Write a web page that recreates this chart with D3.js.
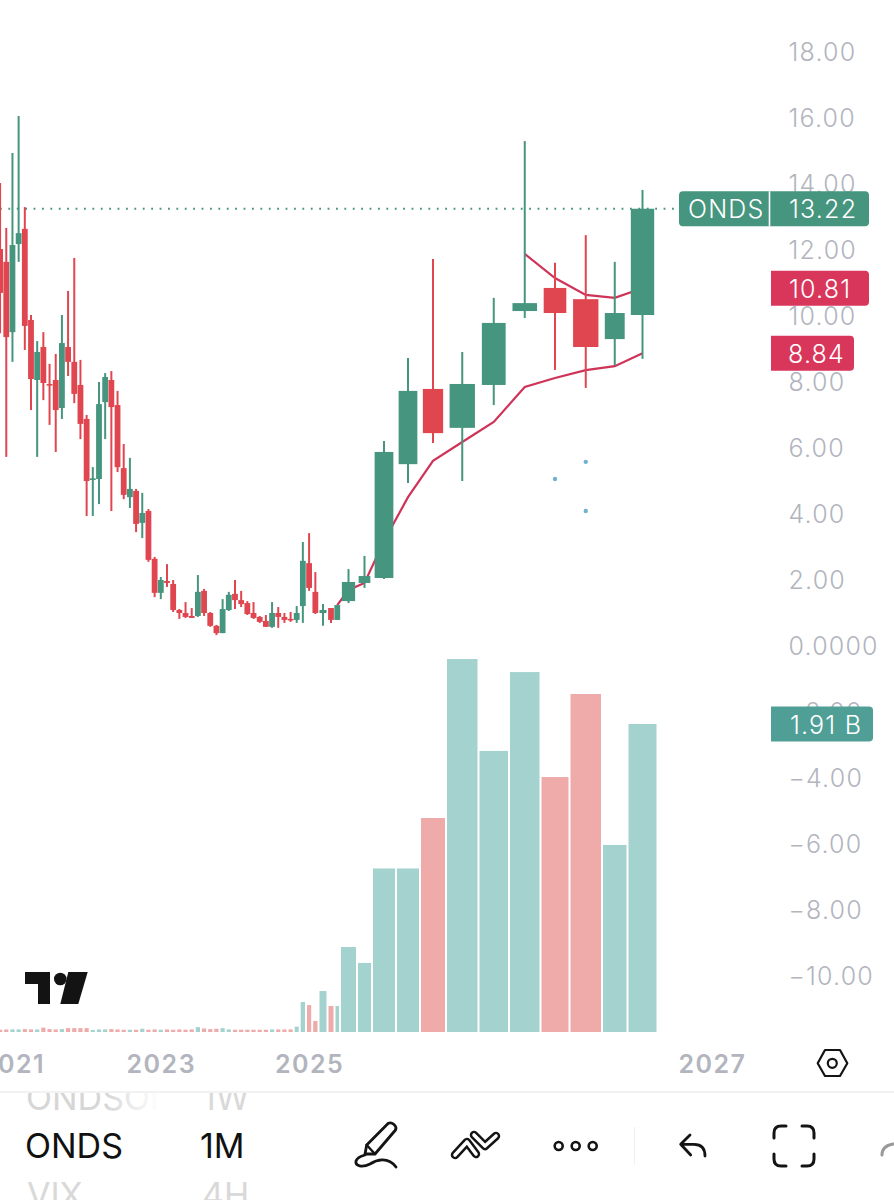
<!DOCTYPE html>
<html>
<head>
<meta charset="utf-8">
<script src="https://cdn.jsdelivr.net/npm/d3@7"></script>
<style>
  html, body { margin: 0; background: #fff; }
  svg { display: block; font-family: Inter, "Noto Sans", sans-serif; }
</style>
</head>
<body>
<div id="chart"></div>
<script>
// monthly candles, index 0 = Nov 2020, index 50 = Jan 2025
const open = [12.00,11.61,9.48,12.15,12.61,9.85,8.03,9.03,7.91,8.03,7.18,9.03,8.58,7.88,6.85,5.00,5.03,7.36,8.03,7.27,5.36,4.48,4.67,3.70,4.06,2.61,1.58,1.94,1.85,1.06,0.97,0.88,0.88,1.64,0.97,0.58,0.36,1.06,1.55,1.36,1.27,0.97,0.85,0.73,0.55,0.97,0.85,0.79,0.76,1.18,2.48,1.61,0.97,1.12,0.76,1.33,1.88,2.03,5.48,7.76,6.58,7.88,10.12,10.82,10.48,9.27,10.00];
const high = [14.00,12.64,14.91,16.03,13.27,10.00,9.21,9.48,8.52,8.82,10.00,10.73,11.73,8.64,6.97,5.39,7.97,8.24,8.30,7.70,6.09,5.67,4.73,4.61,4.12,2.67,2.06,2.45,1.97,1.09,1.30,1.12,2.12,1.70,1.00,0.61,1.39,1.61,1.97,1.64,1.33,1.30,0.88,0.91,1.30,1.15,0.97,1.00,1.18,3.12,3.39,2.21,1.24,1.12,1.21,2.30,2.70,6.18,8.70,11.70,8.88,10.52,15.27,11.58,12.42,11.61,13.79];
const low = [9.45,5.70,8.58,11.61,8.94,7.12,5.70,7.42,6.67,5.85,6.85,8.15,7.33,6.24,3.91,3.91,4.27,6.24,4.06,5.24,4.42,4.15,3.42,3.24,2.52,1.45,1.39,1.76,1.00,0.79,0.82,0.82,0.85,0.88,0.55,0.30,0.36,1.03,1.09,1.15,0.91,0.79,0.67,0.55,0.52,0.52,0.67,0.70,0.67,0.67,1.64,0.94,0.58,0.67,0.76,1.27,1.73,2.00,4.91,6.12,4.97,7.27,9.91,8.33,7.79,8.48,8.67];
const close = [10.67,9.33,12.12,12.48,9.67,8.06,8.88,7.94,7.86,7.12,9.15,8.58,7.61,6.70,4.97,5.05,7.30,8.12,7.21,5.39,4.55,4.73,3.67,4.00,2.58,1.58,1.97,1.88,1.06,0.97,0.85,0.82,1.61,0.97,0.58,0.36,1.09,1.52,1.36,1.24,0.94,0.82,0.70,0.55,0.97,0.85,0.76,0.76,0.97,2.55,1.73,0.97,1.06,0.76,1.21,1.91,2.09,5.85,7.70,6.42,7.91,9.76,10.36,10.06,9.03,10.06,13.22];
// volume in billions
const volume = [0.014,0.016,0.016,0.016,0.018,0.016,0.016,0.027,0.018,0.016,0.018,0.024,0.024,0.024,0.024,0.012,0.016,0.016,0.018,0.016,0.014,0.014,0.014,0.020,0.014,0.016,0.014,0.016,0.014,0.016,0.014,0.016,0.030,0.022,0.018,0.020,0.024,0.016,0.014,0.014,0.014,0.014,0.014,0.014,0.016,0.016,0.016,0.016,0.033,0.186,0.167,0.068,0.254,0.161,0.161,0.527,0.428,1.014,1.014,1.327,2.313,1.743,2.232,1.581,2.096,1.160,1.910];
// two moving averages, each starts at a given candle index
const maLowStart = 54;
const maLow = [1.21,1.67,1.88,3.15,4.48,5.58,6.15,6.76,7.82,8.09,8.33,8.45,8.84];
const maHighStart = 62;
const maHigh = [11.85,11.12,10.61,10.52,10.81];
// small blue marks: candle index and price
const dotIndex = [63,64,64];
const dotPrice = [5.03,5.55,4.06];

const priceTicks = [18,16,14,12,10,8,6,4,2,0,-2,-4,-6,-8,-10];
const yearTicks = [2,26,50,74];
const yearLabels = ["2021","2023","2025","2027"];

const lastPrice = 13.22, lastMaHigh = 10.81, lastMaLow = 8.84, lastVolume = 1.91;

const width = 894, height = 1200;
const green = "#46957f", red = "#e0464f";
const volGreen = "#a3d2cf", volRed = "#eeabaa";
const pink = "#cf3358", axisGrey = "#b2b5be";

// the app squeezes months unevenly, so the x scale is piecewise on month edges
const x = d3.scaleLinear()
    .domain([-0.5,47.5,48.5,49.5,50.5,51.5,52.5,53.5,54.5,55.5,56.5,57.5,58.5,59.5,60.5,61.5,62.5,63.5,64.5,65.5,66.5,74])
    .range([-3,293.7,299.7,306,312.2,318.5,327.5,334.5,340,357,372,396,420,446,478.5,509,540.5,569.5,602,627.5,657.5,712]);

const y = d3.scaleLinear().domain([-12, 19]).range([645 + 12 * 33, 645 - 19 * 33]);
const v = d3.scaleLinear().domain([0, lastVolume]).range([1032, 724]);

const svg = d3.select("#chart").append("svg")
    .attr("width", width)
    .attr("height", height)
    .attr("viewBox", [0, 0, width, height]);

const defs = svg.append("defs");
const fade = defs.append("linearGradient").attr("id", "fade")
    .attr("gradientUnits", "userSpaceOnUse")
    .attr("x1", 105).attr("x2", 160).attr("y1", 0).attr("y2", 0);
fade.append("stop").attr("offset", 0).attr("stop-color", "#d6d6d6");
fade.append("stop").attr("offset", 1).attr("stop-color", "#ffffff");
defs.append("clipPath").attr("id", "wheel").append("rect")
    .attr("x", 0).attr("y", 1093).attr("width", width).attr("height", 107);

const idx = d3.range(open.length);

// price axis sits under the labels
const yAxis = d3.axisRight(y)
    .tickValues(priceTicks)
    .tickSize(0)
    .tickPadding(0)
    .tickFormat(d => d === 0 ? "0.0000" : d3.format(".2f")(d));
svg.append("g")
    .attr("transform", "translate(788.5,1)")
    .call(yAxis)
    .call(g => g.select(".domain").remove())
    .call(g => g.selectAll("text")
        .attr("fill", axisGrey)
        .attr("font-size", 25)
        .attr("font-family", "Inter")
        .attr("font-weight", 300)
        .attr("letter-spacing", 1.2));

const xAxis = d3.axisBottom(x)
    .tickValues(yearTicks)
    .tickSize(0)
    .tickPadding(0)
    .tickFormat((d, i) => yearLabels[i]);
svg.append("g")
    .attr("transform", "translate(0,1055)")
    .call(xAxis)
    .call(g => g.select(".domain").remove())
    .call(g => g.selectAll("text")
        .attr("fill", axisGrey)
        .attr("font-size", 25)
        .attr("font-family", "Inter")
        .attr("font-weight", 600)
        .attr("letter-spacing", 1.5));

// volume
const gap = 2;
svg.append("g")
  .selectAll("rect")
  .data(idx)
  .join("rect")
    .attr("x", i => x(i - 0.5) + gap / 2)
    .attr("width", i => x(i + 0.5) - x(i - 0.5) - gap)
    .attr("y", i => v(volume[i]))
    .attr("height", i => v(0) - v(volume[i]))
    .attr("fill", i => close[i] >= open[i] ? volGreen : volRed);

// last price line
svg.append("line")
    .attr("x1", 0).attr("x2", 680)
    .attr("y1", y(lastPrice)).attr("y2", y(lastPrice))
    .attr("stroke", green)
    .attr("stroke-width", 1.8)
    .attr("stroke-dasharray", "1.8 6.6");

// moving averages
const line = d3.line().x(d => x(d[0])).y(d => y(d[1]));
svg.append("path")
    .attr("d", line(maLow.map((d, i) => [maLowStart + i, d])))
    .attr("fill", "none").attr("stroke", pink).attr("stroke-width", 2.2);
svg.append("path")
    .attr("d", line(maHigh.map((d, i) => [maHighStart + i, d])))
    .attr("fill", "none").attr("stroke", pink).attr("stroke-width", 2.2);

// candles
const colour = i => close[i] >= open[i] ? green : red;
const candles = svg.append("g");
candles.selectAll("line")
  .data(idx)
  .join("line")
    .attr("x1", i => x(i)).attr("x2", i => x(i))
    .attr("y1", i => y(high[i])).attr("y2", i => y(low[i]))
    .attr("stroke", colour)
    .attr("stroke-width", 2);
const bodyWidth = i => Math.max((x(i + 0.5) - x(i - 0.5)) * 0.78, 5.8);
candles.selectAll("rect")
  .data(idx)
  .join("rect")
    .attr("x", i => x(i) - bodyWidth(i) / 2)
    .attr("width", bodyWidth)
    .attr("y", i => y(Math.max(open[i], close[i])))
    .attr("height", i => Math.max(Math.abs(y(open[i]) - y(close[i])), 1.5))
    .attr("fill", colour);

svg.append("g")
  .selectAll("circle")
  .data(dotIndex)
  .join("circle")
    .attr("cx", d => x(d))
    .attr("cy", (d, i) => y(dotPrice[i]))
    .attr("r", 2.2)
    .attr("fill", "#6fb2d0");

// price tags: square left edge unless told otherwise
function tag(left, right, centre, h, fill, roundLeft) {
  const t = centre - h / 2, b = centre + h / 2, r = 4;
  const p = d3.path();
  if (roundLeft) {
    p.moveTo(left + r, t);
  } else {
    p.moveTo(left, t);
  }
  p.lineTo(right - r, t);
  p.quadraticCurveTo(right, t, right, t + r);
  p.lineTo(right, b - r);
  p.quadraticCurveTo(right, b, right - r, b);
  if (roundLeft) {
    p.lineTo(left + r, b);
    p.quadraticCurveTo(left, b, left, b - r);
    p.lineTo(left, t + r);
    p.quadraticCurveTo(left, t, left + r, t);
  } else {
    p.lineTo(left, b);
    p.closePath();
  }
  svg.append("path").attr("d", p.toString()).attr("fill", fill);
}
function tagText(px, py, s) {
  svg.append("text")
      .attr("x", px).attr("y", py + 1).attr("dy", "0.35em")
      .attr("fill", "#fff")
      .attr("font-size", 25)
      .attr("font-family", "Inter")
      .attr("font-weight", 300)
      .attr("letter-spacing", 1.2)
      .text(s);
}

tag(679, 869, y(lastPrice), 35, green, true);
svg.append("line").attr("x1", 769.5).attr("x2", 769.5)
    .attr("y1", y(lastPrice) - 17.5).attr("y2", y(lastPrice) + 17.5)
    .attr("stroke", "#fff").attr("stroke-width", 1.6);
tagText(688, y(lastPrice), "ONDS");
tagText(789, y(lastPrice), d3.format(".2f")(lastPrice));

tag(771, 869, y(lastMaHigh), 35, "#d9365c", false);
tagText(789, y(lastMaHigh), d3.format(".2f")(lastMaHigh));
tag(771, 854, y(lastMaLow), 35, "#d9365c", false);
tagText(788, y(lastMaLow), d3.format(".2f")(lastMaLow));
tag(771, 873, v(lastVolume), 35, "#4f9f97", false);
tagText(790, v(lastVolume), d3.format(".2f")(lastVolume) + " B");

// tradingview mark
const logo = svg.append("g").attr("fill", "#131313");
logo.append("path").attr("d", "M25 972H50V1004H38V984H25Z");
logo.append("circle").attr("cx", 60.3).attr("cy", 979).attr("r", 6.3);
logo.append("path").attr("d", "M68.3 972H87.7L78.3 1004H60.3Z");

// settings hexagon
const ink = "#141414";
const icons = svg.append("g").attr("fill", "none").attr("stroke", ink).attr("stroke-linecap", "round").attr("stroke-linejoin", "round");
icons.append("path").attr("stroke-width", 2.2).attr("d", "M817.7 1063.3L825 1050H840L847.3 1063.3L840 1076H825Z");
icons.append("circle").attr("cx", 832.3).attr("cy", 1063.3).attr("r", 4.5).attr("stroke-width", 2.2);

svg.append("line").attr("x1", 0).attr("x2", width).attr("y1", 1092).attr("y2", 1092).attr("stroke", "#eeeeee").attr("stroke-width", 1.5);
svg.append("line").attr("x1", 634.5).attr("x2", 634.5).attr("y1", 1127).attr("y2", 1165).attr("stroke", "#f0f0f0").attr("stroke-width", 1.2);

// symbol and interval wheel
const wheel = svg.append("g").attr("clip-path", "url(#wheel)").attr("font-family", "Inter").attr("font-size", 34);
wheel.append("text").attr("x", 26).attr("y", 1110).attr("fill", "url(#fade)").text("ONDSON");
wheel.append("text").attr("x", 202).attr("y", 1110).attr("fill", "#d9d9d9").text("1W");
wheel.append("text").attr("x", 25).attr("y", 1158).attr("fill", "#111").text("ONDS");
wheel.append("text").attr("x", 200).attr("y", 1158).attr("fill", "#111").text("1M");
wheel.append("text").attr("x", 27).attr("y", 1207).attr("fill", "#d9d9d9").text("VIX");
wheel.append("text").attr("x", 202).attr("y", 1207).attr("fill", "#d9d9d9").text("4H");

// toolbar icons
icons.append("path").attr("stroke-width", 2.8).attr("d", "M365 1154L366.7 1145L388.3 1123.3Q391 1122 394 1124.5Q397 1127 395.5 1130L375 1154Z");
icons.append("path").attr("stroke-width", 2.4).attr("d", "M366.7 1145L375 1154");
icons.append("path").attr("stroke-width", 2.8).attr("d", "M396 1167C388 1156 376 1160 370 1164C362 1168 355 1166 356 1161C357 1158 361 1156 365 1155");

icons.append("path").attr("stroke-width", 8.5).attr("d", "M455 1155L467 1142L476 1154M474 1135L485 1146L496 1136");
icons.append("path").attr("stroke-width", 3.6).attr("stroke", "#fff").attr("d", "M455 1155L467 1142L476 1154M474 1135L485 1146L496 1136");

[558.7, 575.7, 592.7].forEach(cx => {
  icons.append("circle").attr("cx", cx).attr("cy", 1146).attr("r", 4).attr("stroke-width", 2.6);
});

icons.append("path").attr("stroke-width", 2.8).attr("d", "M690 1135L680.7 1144.3L690.7 1155M680.7 1144.3H694Q705 1144.3 705 1156");

icons.append("path").attr("stroke-width", 3).attr("d", "M786 1126H781Q774 1126 774 1133V1138M802 1126H807Q814 1126 814 1133V1138M786 1166H781Q774 1166 774 1159V1154M802 1166H807Q814 1166 814 1159V1154");
icons.append("path").attr("stroke-width", 3).attr("stroke", "#999").attr("d", "M882 1155Q882 1146 893 1144");
</script>
</body>
</html>
